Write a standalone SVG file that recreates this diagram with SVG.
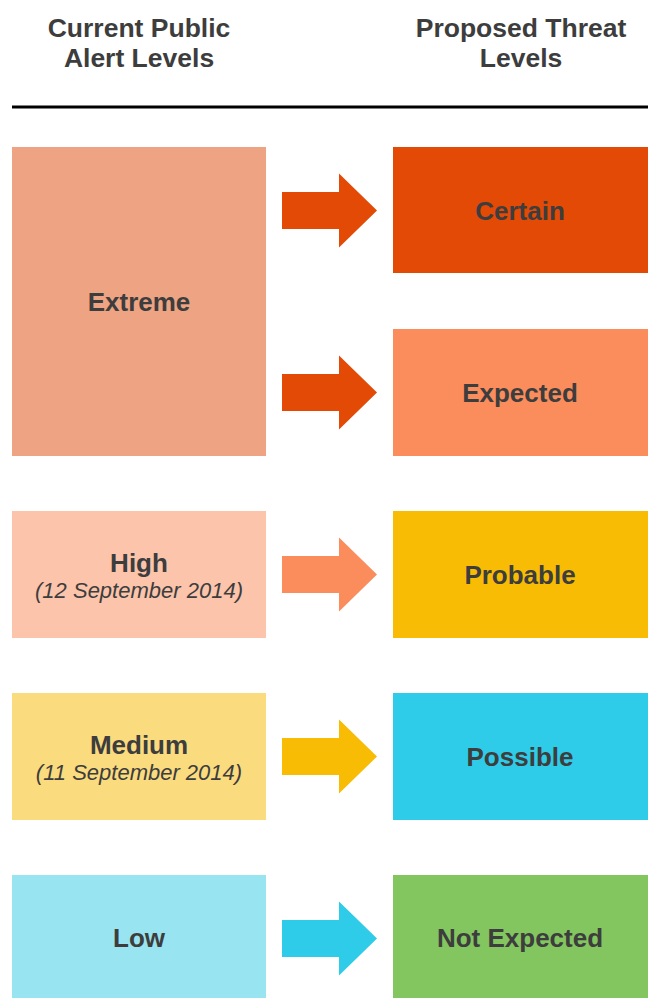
<svg xmlns="http://www.w3.org/2000/svg" xmlns:xlink="http://www.w3.org/1999/xlink" width="651" height="999" viewBox="0 0 651 999">
<style>
text{font-family:"Liberation Sans",Arial,sans-serif;fill:#3d3d3d;text-anchor:middle}
.h{font-size:26.5px;font-weight:bold}
.l{font-size:26px;font-weight:bold}
.d{font-size:22px;font-style:italic}
</style>
<defs>
<path id="arr" d="M282,-18.5 H339 V-37 L377,0 L339,37 V18.5 H282 Z"/>
</defs>
<rect width="651" height="999" fill="#fff"/>
<g id="header">
<text class="h" x="139" y="37">Current Public</text>
<text class="h" x="139" y="67">Alert Levels</text>
<text class="h" x="521" y="37">Proposed Threat</text>
<text class="h" x="521" y="67">Levels</text>
<line x1="12" y1="107" x2="648" y2="107" stroke="#000" stroke-width="3"/>
</g>
<g id="extreme"><rect x="12" y="147" width="254" height="309" fill="#EEA383"/><text class="l" x="139" y="311">Extreme</text></g>
<g id="high"><rect x="12" y="511" width="254" height="127" fill="#FBC4AB"/><text class="l" x="139" y="572">High</text><text class="d" x="139" y="598">(12 September 2014)</text></g>
<g id="medium"><rect x="12" y="693" width="254" height="127" fill="#FADB7E"/><text class="l" x="139" y="754">Medium</text><text class="d" x="139" y="780">(11 September 2014)</text></g>
<g id="low"><rect x="12" y="875" width="254" height="123" fill="#98E4F1"/><text class="l" x="139" y="947">Low</text></g>
<g id="certain"><rect x="393" y="147" width="255" height="126" fill="#E34A05"/><text class="l" x="520" y="220">Certain</text></g>
<g id="expected"><rect x="393" y="329" width="255" height="127" fill="#FB8C5C"/><text class="l" x="520" y="402">Expected</text></g>
<g id="probable"><rect x="393" y="511" width="255" height="127" fill="#F8BC04"/><text class="l" x="520" y="584">Probable</text></g>
<g id="possible"><rect x="393" y="693" width="255" height="127" fill="#2ECCE8"/><text class="l" x="520" y="766">Possible</text></g>
<g id="notexpected"><rect x="393" y="875" width="255" height="123" fill="#83C660"/><text class="l" x="520" y="947">Not Expected</text></g>
<g id="connectors">
<use xlink:href="#arr" transform="translate(0,210.5)" fill="#E24A05"/>
<use xlink:href="#arr" transform="translate(0,392.5)" fill="#E24A05"/>
<use xlink:href="#arr" transform="translate(0,574.5)" fill="#FB8C5C"/>
<use xlink:href="#arr" transform="translate(0,756.5)" fill="#F8BC04"/>
<use xlink:href="#arr" transform="translate(0,938.5)" fill="#2ECCE8"/>
</g>
</svg>
